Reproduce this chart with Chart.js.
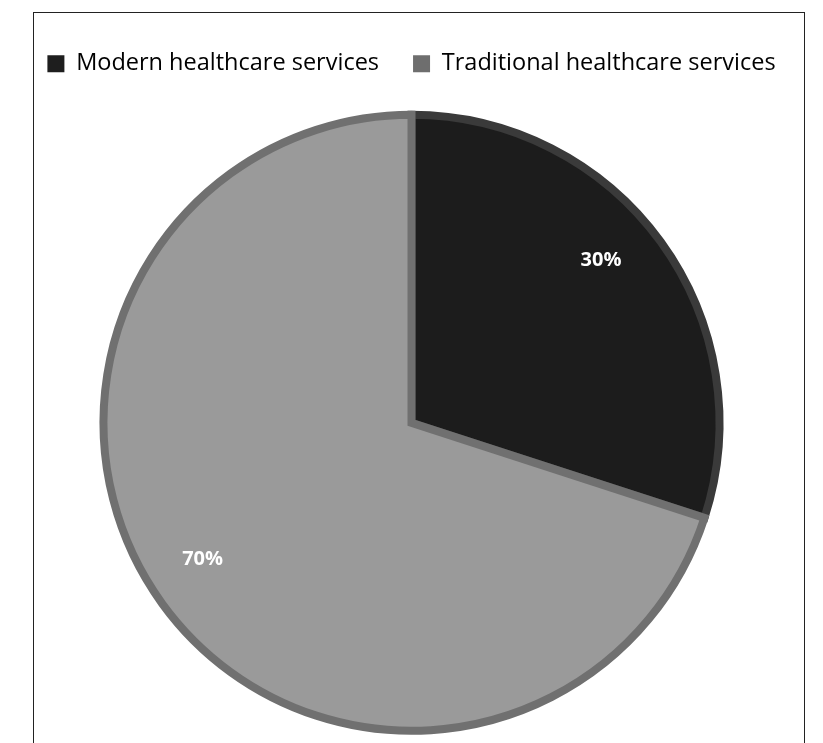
<!DOCTYPE html>
<html><head><meta charset="utf-8">
<script src="https://cdn.jsdelivr.net/npm/chart.js@4"></script>
<style>
html,body{margin:0;padding:0;background:#fff;overflow:hidden;}
#wrap{position:relative;width:823px;height:743px;overflow:hidden;}
#frame{position:absolute;left:33px;top:12px;width:772px;height:760px;border:1.5px solid #222;box-sizing:border-box;}
canvas{position:absolute;left:0;top:0;}
</style></head><body>
<div id="wrap"><div id="frame"></div><canvas id="c" width="823" height="790"></canvas></div>
<script>
const categories = ["Modern healthcare services", "Traditional healthcare services"];
const values = [30, 70];
const fills = ["#1c1c1c", "#9a9a9a"];
const borders = ["#3a3a3a", "#707070"];
const legendSwatches = ["#1e1e1e", "#6e6e6e"];

const labelPlugin = {
  id: 'pctLabels',
  afterDatasetsDraw(chart) {
    const ctx = chart.ctx;
    const meta = chart.getDatasetMeta(0);
    const total = values.reduce((a, b) => a + b, 0);
    ctx.save();
    ctx.fillStyle = '#fff';
    ctx.font = 'bold 20px "Open Sans", sans-serif';
    ctx.textAlign = 'center';
    ctx.textBaseline = 'middle';
    meta.data.forEach((arc, i) => {
      const a = (arc.startAngle + arc.endAngle) / 2 - (i === 0 ? 0.08 : -0.05);
      const r = arc.outerRadius * 0.81;
      ctx.fillText(Math.round(values[i] / total * 100) + '%', arc.x + Math.cos(a) * r, arc.y + Math.sin(a) * r);
    });
    ctx.restore();
  }
};

new Chart(document.getElementById('c'), {
  type: 'pie',
  data: { labels: categories, datasets: [{ data: values, backgroundColor: fills, borderColor: borders, borderWidth: 8, borderJoinStyle: 'miter', radius: 308 }] },
  options: {
    responsive: false, animation: false,
    layout: { padding: { top: 18, bottom: 30, left: 0, right: 0 } },
    plugins: {
      legend: { position: 'top', labels: {
        font: { size: 23.5, family: '"Open Sans", sans-serif' }, color: '#111', boxWidth: 17, boxHeight: 17, padding: 34,
        generateLabels: (chart) => categories.map((t, i) => ({ text: t, fillStyle: legendSwatches[i], strokeStyle: legendSwatches[i], lineWidth: 0, index: i, hidden: false }))
      } },
      tooltip: { enabled: false }
    }
  },
  plugins: [labelPlugin]
});
</script></body></html>
